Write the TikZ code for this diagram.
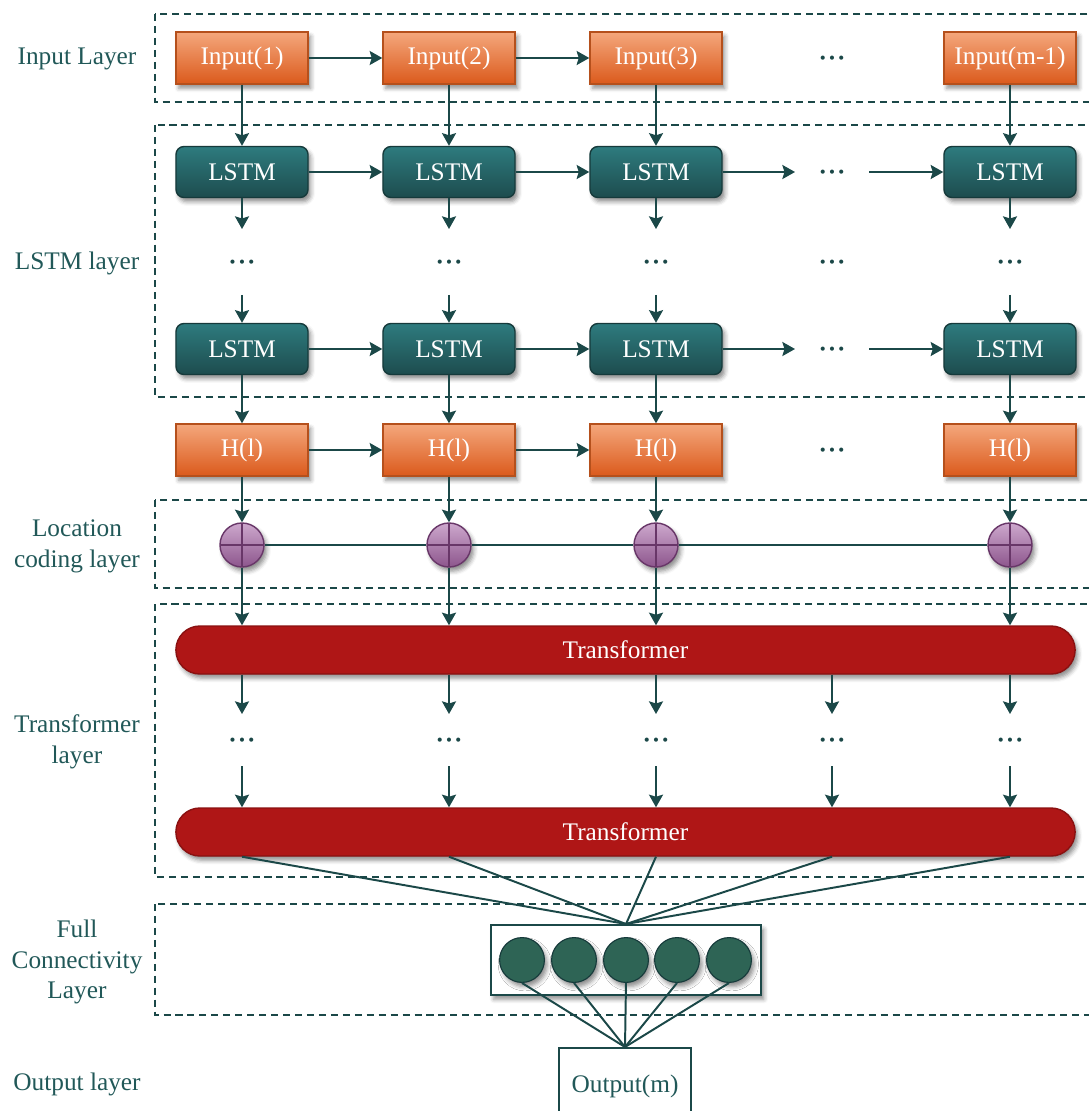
\documentclass[tikz,border=0pt]{standalone}
\usepackage{fontspec}
\setmainfont{Liberation Serif}
\usetikzlibrary{arrows.meta,positioning,shadows.blur}

\definecolor{ink}{HTML}{1B4848}
\definecolor{lbltxt}{HTML}{215858}
\definecolor{orangetop}{HTML}{F4A77C}
\definecolor{orangebot}{HTML}{DB5A1C}
\definecolor{orangeline}{HTML}{B5501C}
\definecolor{tealtop}{HTML}{2E7B7E}
\definecolor{tealbot}{HTML}{1D4C4E}
\definecolor{tealline}{HTML}{163A3B}
\definecolor{purptop}{HTML}{CDA8CD}
\definecolor{purpbot}{HTML}{8D568D}
\definecolor{purpline}{HTML}{683668}
\definecolor{transred}{HTML}{AF1616}
\definecolor{transline}{HTML}{8A1111}
\definecolor{neurongreen}{HTML}{2E6455}

\newcommand{\midots}{\raisebox{-6pt}{\textcolor{ink}{\textbf{·\kern0.6pt·\kern0.6pt·}}}}

\tikzset{
  shade/.style={blur shadow={shadow xshift=2pt,shadow yshift=-3pt,shadow blur radius=3pt,shadow opacity=45}},
  inbox/.style={rectangle,draw=orangeline,line width=1pt,top color=orangetop,bottom color=orangebot,
    text=white,minimum width=3.3cm,minimum height=1.3cm,inner sep=0pt,shade},
  lstm/.style={rectangle,rounded corners=0.2cm,draw=tealline,line width=1pt,top color=tealtop,
    bottom color=tealbot,text=white,minimum width=3.3cm,minimum height=1.275cm,inner sep=0pt,shade},
  sum/.style={circle,draw=purpline,line width=1pt,top color=purptop,bottom color=purpbot,
    minimum size=1.1cm,inner sep=0pt,shade,
    path picture={\draw[purpline,line width=1pt]
      (path picture bounding box.north) -- (path picture bounding box.south)
      (path picture bounding box.west) -- (path picture bounding box.east);}},
  trans/.style={rectangle,rounded corners=0.6cm,fill=transred,draw=transline,line width=1pt,
    text=white,minimum width=22.475cm,minimum height=1.2cm,inner sep=0pt,shade},
  neuron/.style={circle,fill=neurongreen,draw=tealline,line width=0.8pt,minimum size=1.12cm,
    inner sep=0pt,shade},
  dots/.style={inner sep=0pt,text height=0pt,text depth=0pt},
  lbl/.style={text=lbltxt,align=center},
  layerbox/.style={draw=ink,line width=1.5pt,dash pattern=on 5pt off 3.5pt}
}

\begin{document}
\begin{tikzpicture}[x=0.025cm,y=-0.025cm,>={Stealth[length=9pt,width=10pt,inset=1.5pt]},
  line width=1.4pt,font=\fontsize{18}{22}\selectfont]

\useasboundingbox (0,0) rectangle (1088,1111);

% layer frames
\draw[layerbox] (155,14) rectangle (1095,102);
\draw[layerbox] (155,125) rectangle (1095,397);
\draw[layerbox] (155,500) rectangle (1095,588);
\draw[layerbox] (155,604) rectangle (1095,877);
\draw[layerbox] (155,904) rectangle (1095,1015);

% layer names
\node[lbl] (lin) at (77,59) {Input Layer};
\node[lbl] (llstm) at (77,263) {LSTM layer};
\node[lbl] (lloc) at (77,546) {Location\\coding layer};
\node[lbl] (ltr) at (77,742) {Transformer\\layer};
\node[lbl] (lfc) at (77,962) {Full\\Connectivity\\Layer};
\node[lbl] (lout) at (77,1084) {Output layer};

% columns
\foreach \x/\t [count=\i] in {242/1,449/2,656/3,1010/m-1} {
  \node[inbox] (in\i) at (\x,58) {Input(\t)};
  \node[lstm] (la\i) at (\x,172) {LSTM};
  \node[dots,minimum height=1.6cm] (lv\i) at (\x,262) {\midots};
  \node[lstm] (lb\i) at (\x,349) {LSTM};
  \node[inbox] (h\i) at (\x,450) {H(l)};
  \node[sum] (s\i) at (\x,545) {};
}
\node[dots] (ind) at (832,58) {\midots};
\node[dots,minimum width=1.8cm] (lad) at (832,172) {\midots};
\node[dots] (lvd) at (832,262) {\midots};
\node[dots,minimum width=1.8cm] (lbd) at (832,349) {\midots};
\node[dots] (hd) at (832,450) {\midots};

\node[trans] (t1) at (625.5,650) {Transformer};
\node[trans] (t2) at (625.5,832) {Transformer};

\node[rectangle,draw=ink,fill=white,line width=1.4pt,minimum width=6.75cm,
  minimum height=1.75cm,shade] (fc) at (626,960) {};
\foreach \x [count=\i] in {522,574,626,677,729}
  \node[neuron] (n\i) at (\x,960) {};

\node[rectangle,draw=ink,line width=1.4pt,minimum width=3.3cm,minimum height=1.9cm,
  text=lbltxt] (out) at (625,1086) {Output(m)};

% vertical flow
\foreach \i in {1,...,4} {
  \draw[->,ink] (in\i) -- (la\i);
  \draw[->,ink] (la\i) -- (lv\i);
  \draw[->,ink] (lv\i) -- (lb\i);
  \draw[->,ink] (lb\i) -- (h\i);
  \draw[->,ink] (h\i) -- (s\i);
  \draw[->,ink] (s\i) -- (s\i |- t1.north);
}

% horizontal flow
\draw[->,ink] (in1) -- (in2);
\draw[->,ink] (in2) -- (in3);
\draw[->,ink] (la1) -- (la2);
\draw[->,ink] (la2) -- (la3);
\draw[->,ink] (la3) -- (lad);
\draw[->,ink] (lad) -- (la4);
\draw[->,ink] (lb1) -- (lb2);
\draw[->,ink] (lb2) -- (lb3);
\draw[->,ink] (lb3) -- (lbd);
\draw[->,ink] (lbd) -- (lb4);
\draw[->,ink] (h1) -- (h2);
\draw[->,ink] (h2) -- (h3);
\draw[ink] (s1) -- (s2);
\draw[ink] (s2) -- (s3);
\draw[ink] (s3) -- (s4);

% transformer stack
\foreach \x [count=\i] in {242,449,656,832,1010} {
  \node[dots,minimum height=1.25cm] (tv\i) at (\x,740) {\midots};
  \draw[->,ink] (t1.south -| tv\i) -- (tv\i);
  \draw[->,ink] (tv\i) -- (tv\i |- t2.north);
  \draw[ink] (t2.south -| tv\i) -- (fc.north);
}

% full connectivity to output
\foreach \i in {1,...,5}
  \draw[ink] (n\i.south) -- (out.north);

\end{tikzpicture}
\end{document}
